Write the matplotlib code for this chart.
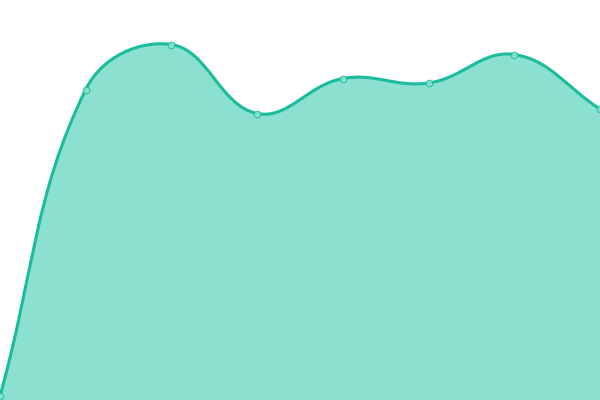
import numpy as np
import matplotlib
matplotlib.use('Agg')
import matplotlib.pyplot as plt
from matplotlib.path import Path
from matplotlib.patches import PathPatch

# Data
labels = ['A', 'B', 'C', 'D', 'E', 'F', 'G', 'H']
values = [4, 310.5, 355.5, 286.5, 321.5, 317, 345.5, 291]

line_color = '#1abc9c'
fill_color = '#8be0cf'
tension = 0.4

fig = plt.figure(figsize=(6, 4), dpi=100)
ax = fig.add_axes([0, 0, 1, 1])
ax.set_xlim(0, len(values) - 1)
ax.set_ylim(0, 400)
ax.axis('off')

x = np.arange(len(values), dtype=float)
y = np.array(values, dtype=float)

# spline control points (chart.js style), distances measured in pixels
sx = 600 / (len(values) - 1)
sy = 400 / 400
px, py = x * sx, y * sy
cps = []
for i in range(len(px)):
    p0 = (px[max(i - 1, 0)], py[max(i - 1, 0)])
    p1 = (px[i], py[i])
    p2 = (px[min(i + 1, len(px) - 1)], py[min(i + 1, len(px) - 1)])
    d01 = np.hypot(p1[0] - p0[0], p1[1] - p0[1])
    d12 = np.hypot(p2[0] - p1[0], p2[1] - p1[1])
    s = d01 + d12
    fa = tension * d01 / s if s else 0
    fb = tension * d12 / s if s else 0
    prev_cp = (p1[0] - fa * (p2[0] - p0[0]), p1[1] - fa * (p2[1] - p0[1]))
    next_cp = (p1[0] + fb * (p2[0] - p0[0]), p1[1] + fb * (p2[1] - p0[1]))
    prev_cp = (min(max(prev_cp[0], 0), 600), min(max(prev_cp[1], 0), 400))
    next_cp = (min(max(next_cp[0], 0), 600), min(max(next_cp[1], 0), 400))
    cps.append((prev_cp, next_cp))

verts = [(x[0], y[0])]
codes = [Path.MOVETO]
for i in range(1, len(x)):
    c1 = cps[i - 1][1]
    c2 = cps[i][0]
    verts += [(c1[0] / sx, c1[1] / sy), (c2[0] / sx, c2[1] / sy), (x[i], y[i])]
    codes += [Path.CURVE4] * 3

line_path = Path(verts, codes)
fill_verts = verts + [(x[-1], 0), (x[0], 0), (x[0], y[0])]
fill_codes = codes + [Path.LINETO, Path.LINETO, Path.CLOSEPOLY]
fill_path = Path(fill_verts, fill_codes)

ax.add_patch(PathPatch(fill_path, facecolor=fill_color, edgecolor='none'))
ax.add_patch(PathPatch(line_path, facecolor='none', edgecolor=line_color, lw=2.2))
ax.plot(x, y, 'o', ms=4.8, mfc=fill_color, mec=line_color, mew=0.7, alpha=0.9)

fig.savefig('out.png', dpi=100)
